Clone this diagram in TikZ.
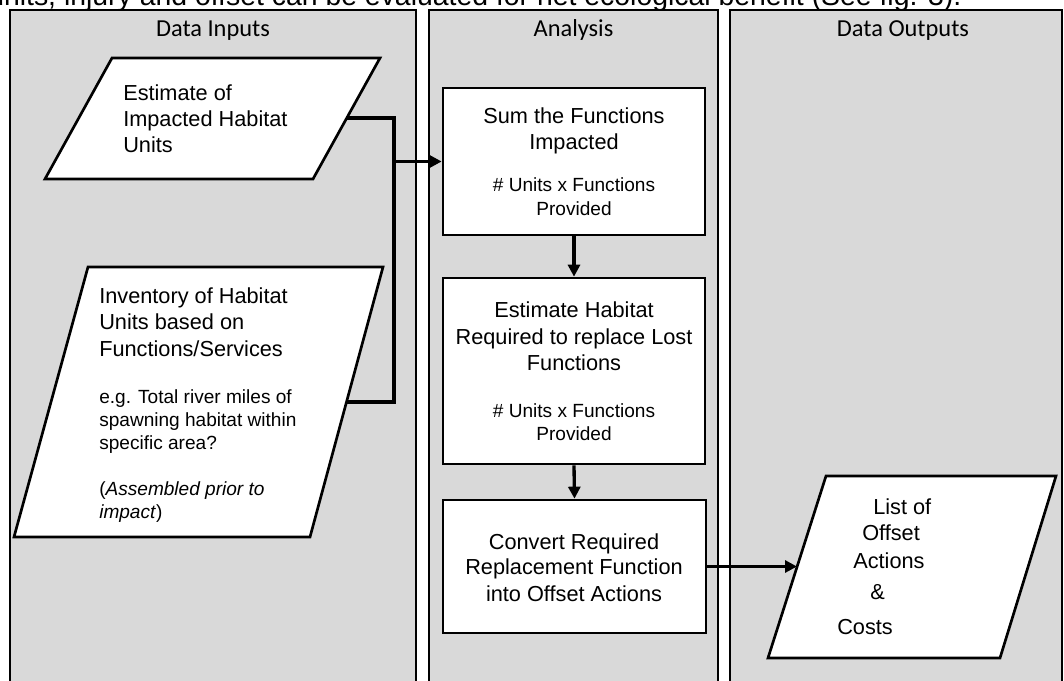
\documentclass[tikz,border=0pt]{standalone}
\usepackage{fontspec}
\setmainfont{Liberation Sans}
\newfontfamily\lanefont{Carlito}
\usetikzlibrary{arrows.meta}
\definecolor{lanegray}{RGB}{217,217,217}
\tikzset{
  lane/.style={draw=black, line width=2pt, fill=lanegray},
  box/.style={draw=black, line width=2pt, fill=white, inner sep=0pt},
  para/.style={draw=black, line width=2pt, fill=white, line join=miter},
  conn/.style={draw=black, line width=2.5pt, line join=miter},
  arr/.style={conn, -{Triangle[length=9pt,width=9pt]}},
  big/.style={font=\fontsize{16.3}{19.5}\selectfont, inner sep=0pt},
  small/.style={font=\fontsize{14.3}{17.5}\selectfont, inner sep=0pt},
  capt/.style={font=\fontsize{21.3}{25}\selectfont, inner sep=0pt, anchor=base west},
  ttl/.style={font=\lanefont\fontsize{18.3}{21}\selectfont, inner sep=0pt, anchor=base},
  cb/.style={big, anchor=base},
  cs/.style={small, anchor=base},
  lb/.style={big, anchor=base west},
  ls/.style={small, anchor=base west},
}
\begin{document}
\begin{tikzpicture}[x=0.75pt,y=-0.75pt]
\clip (0,0) rectangle (1064,681);
\fill[white] (0,0) rectangle (1064,681);

% partially visible caption line (cut at the top edge, as in the reference)
\node[capt] (caption) at (-12,5.5) {units, injury and offset can be evaluated for net ecological benefit (See fig. 3).};

% lanes
\draw[lane] (10,10) rectangle (416,700);
\draw[lane] (429,10) rectangle (718,700);
\draw[lane] (730,10) rectangle (1062,700);
\node[ttl] (t1) at (213,37) {Data Inputs};
\node[ttl] (t2) at (573.5,37) {Analysis};
\node[ttl] (t3) at (903,37) {Data Outputs};

% input / output parallelograms
\draw[para] (112,58) -- (380,58) -- (313,179) -- (45,179) -- cycle;
\draw[para] (88,267) -- (383,267) -- (310,537) -- (14,537) -- cycle;
\draw[para] (826,476) -- (1056,476) -- (1000,658) -- (768,658) -- cycle;

% process boxes
\node[box, minimum width=196.5pt, minimum height=110.25pt] (sum) at (574,161.5) {};
\node[box, minimum width=196.5pt, minimum height=139.5pt] (req) at (574,371) {};
\node[box, minimum width=197.25pt, minimum height=99.75pt] (conv) at (574.5,566.5) {};

% connector end points
\coordinate (estout) at (347,118);
\coordinate (invout) at (346.5,402);
\coordinate (join) at (394,161.5);
\coordinate (listin) at (797,566.5);

\draw[conn] (estout) -| (join) |- (invout);
\draw[arr] (join) -- (sum.west);
\draw[arr] (sum.south) -- (req.north);
\draw[arr] (req.south) -- (conv.north);
\draw[arr] (conv.east) -- (listin);

% texts: estimate
\node[lb] (e1) at (123,101) {Estimate of};
\node[lb] (e2) at (123,127) {Impacted Habitat};
\node[lb] (e3) at (123,153) {Units};

% texts: inventory
\node[lb] (i1) at (99,303) {Inventory of Habitat};
\node[lb] (i2) at (99,329.5) {Units based on};
\node[lb] (i3) at (99,356) {Functions/Services};
\node[ls] (i4) at (99,403) {e.g. Total river miles of};
\node[ls] (i5) at (99,426) {spawning habitat within};
\node[ls] (i6) at (99,449.5) {specific area?};
\node[ls] (i7) at (99,495) {(\textit{Assembled prior to}};
\node[ls] (i8) at (99,518) {\textit{impact})};

% texts: sum box
\node[cb] (s1) at (574,124) {Sum the Functions};
\node[cb] (s2) at (574,150) {Impacted};
\node[cs] (s3) at (574,192) {\# Units x Functions};
\node[cs] (s4) at (574,215) {Provided};

% texts: required box
\node[cb] (r1) at (574,317) {Estimate Habitat};
\node[cb] (r2) at (574,344) {Required to replace Lost};
\node[cb] (r3) at (574,370) {Functions};
\node[cs] (r4) at (574,417) {\# Units x Functions};
\node[cs] (r5) at (574,440) {Provided};

% texts: convert box
\node[cb] (c1) at (574,549) {Convert Required};
\node[cb] (c2) at (574,574.5) {Replacement Function};
\node[cb] (c3) at (574,601) {into Offset Actions};

% texts: output list
\node[lb] (l1) at (873,514) {List of};
\node[lb] (l2) at (862,540) {Offset};
\node[lb] (l3) at (853,568) {Actions};
\node[lb] (l4) at (870,599) {\&};
\node[lb] (l5) at (837,634) {Costs};
\end{tikzpicture}
\end{document}
